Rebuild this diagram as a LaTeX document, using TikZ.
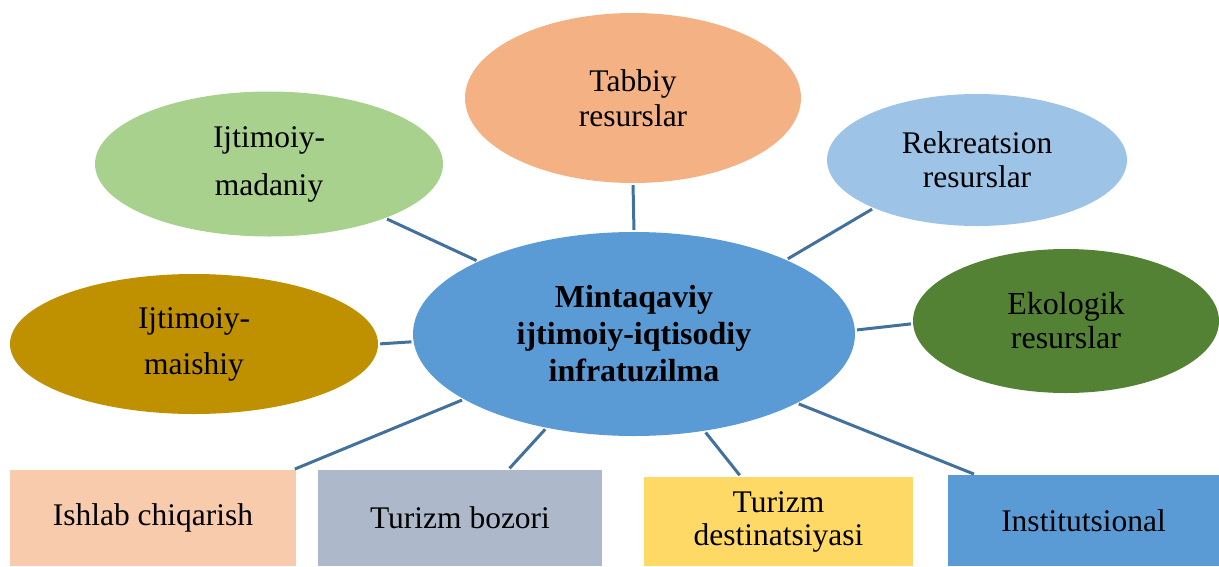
\documentclass[tikz,border=0pt]{standalone}
\usepackage{fontspec}
\setmainfont{Liberation Serif}
\usetikzlibrary{shapes.geometric}
\definecolor{cCenter}{HTML}{5B9BD5}
\definecolor{cTabbiy}{HTML}{F4B183}
\definecolor{cMadaniy}{HTML}{A9D18E}
\definecolor{cRekr}{HTML}{9DC3E6}
\definecolor{cEkol}{HTML}{548235}
\definecolor{cMaish}{HTML}{BF9000}
\definecolor{cIshlab}{HTML}{F8CBAD}
\definecolor{cBozor}{HTML}{ADB9CA}
\definecolor{cDest}{HTML}{FFD966}
\definecolor{cInst}{HTML}{5B9BD5}
\definecolor{cLine}{HTML}{41719C}
\tikzset{
  ell/.style={ellipse, inner sep=0pt, align=center, font=\fontsize{31.5}{35}\selectfont},
  box/.style={rectangle, inner sep=0pt, align=center, font=\fontsize{31.5}{35}\selectfont},
  link/.style={draw=cLine, line width=3pt, shorten <=2pt, shorten >=2pt}
}
\begin{document}
\begin{tikzpicture}[x=1pt,y=-1pt]
\useasboundingbox (0,0) rectangle (1219,566);
\clip (0,0) rectangle (1219,566);
% ellipses
\node[ell, fill=cCenter, minimum width=442pt, minimum height=204pt,
      font=\fontsize{32}{37}\selectfont\bfseries] (c) at (634,334)
      {Mintaqaviy\\ijtimoiy-iqtisodiy\\infratuzilma};
\node[ell, fill=cTabbiy, minimum width=336pt, minimum height=170pt] (tab) at (633,98) {Tabbiy\\resurslar};
\node[ell, fill=cMadaniy, minimum width=348pt, minimum height=145pt,
      font=\fontsize{31.5}{48}\selectfont] (mad) at (269,164) {Ijtimoiy-\\madaniy};
\node[ell, fill=cRekr, minimum width=300pt, minimum height=132pt,
      font=\fontsize{31.5}{34}\selectfont] (rek) at (977,160) {Rekreatsion\\resurslar};
\node[ell, fill=cEkol, minimum width=306pt, minimum height=144pt,
      font=\fontsize{32}{34}\selectfont] (eko) at (1066,321) {Ekologik\\resurslar};
\node[ell, fill=cMaish, minimum width=368pt, minimum height=140pt,
      font=\fontsize{31.5}{46}\selectfont] (mai) at (194,344) {Ijtimoiy-\\maishiy};
% boxes
\node[box, fill=cIshlab, minimum width=286pt, minimum height=96pt] (ish) at (153,518) {Ishlab chiqarish};
\node[box, fill=cBozor, minimum width=284pt, minimum height=96pt] (boz) at (460,518) {Turizm bozori};
\node[box, fill=cDest, minimum width=269pt, minimum height=89pt,
      font=\fontsize{31.5}{33}\selectfont] (des) at (778.5,521.5) {Turizm\\destinatsiyasi};
\node[box, fill=cInst, minimum width=271pt, minimum height=91pt] (ins) at (1083.5,520.5) {Institutsional};
% connectors
\draw[link] (tab.south) -- (c.north);
\draw[link] (mad.335.2) -- (c.155.2);
\draw[link] (rek.205.7) -- (c.26.9);
\draw[link] (eko.181.1) -- (c.1.3);
\draw[link] (mai.0.6) -- (c.182.3);
\draw[link] (c.201.9) -- (ish.19.3);
\draw[link] (c.227.8) -- (boz.45.6);
\draw[link] (c.306.5) -- (des.130.9);
\draw[link] (c.337.1) -- (ins.157.2);
\end{tikzpicture}
\end{document}
